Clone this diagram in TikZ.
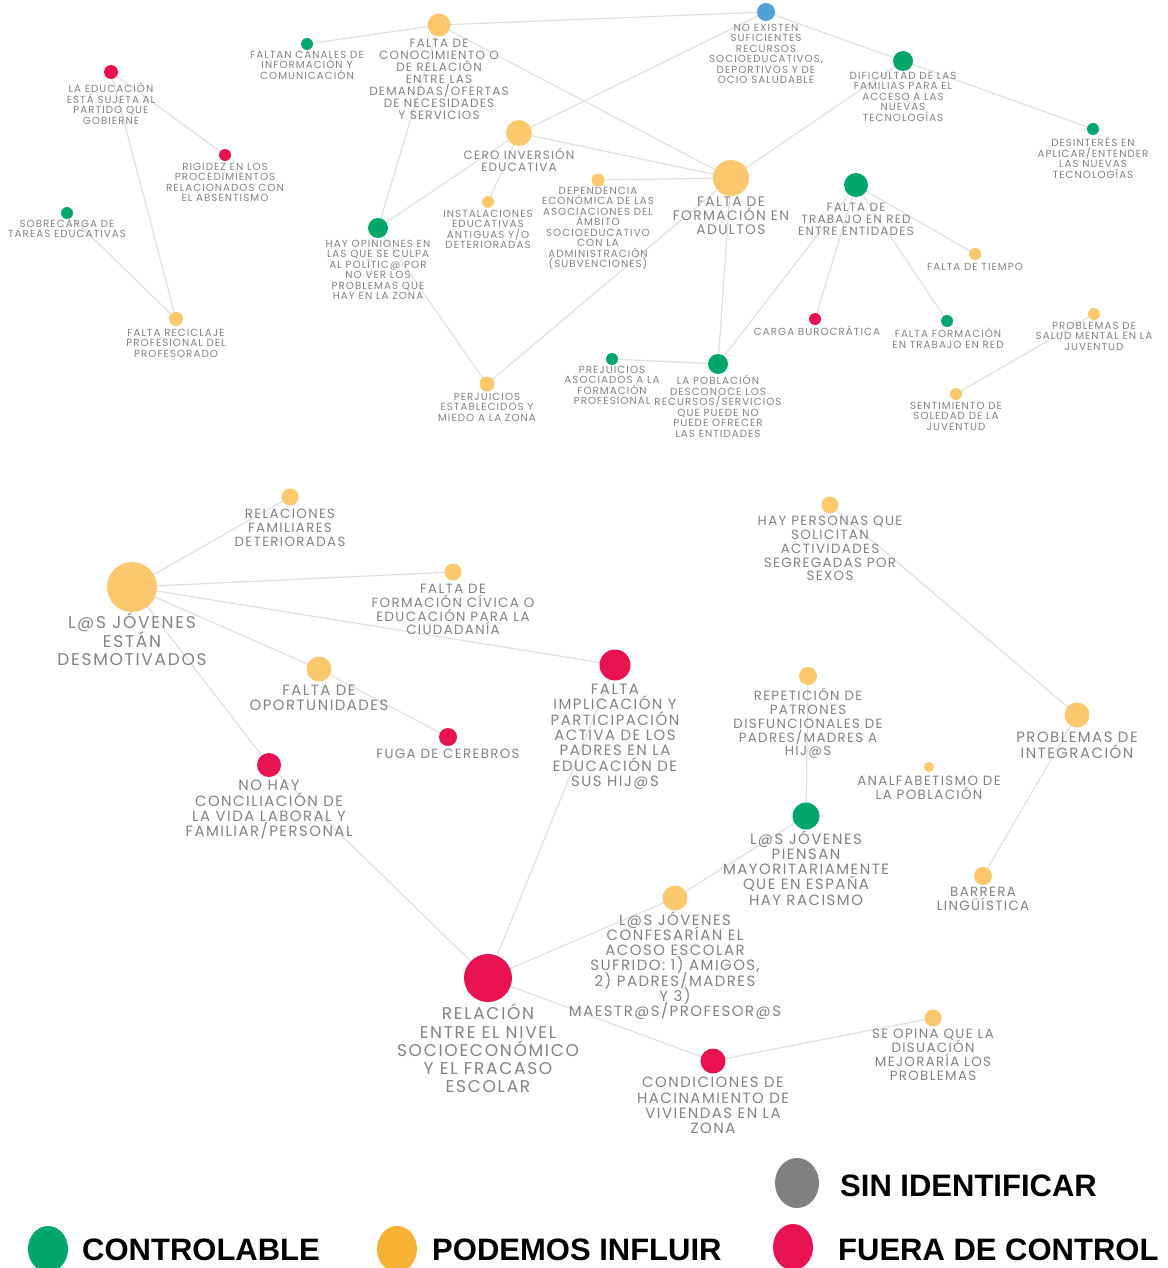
\documentclass[tikz,border=0pt]{standalone}
\usepackage{fontspec}
\setmainfont{Poppins}[LetterSpace=10]
\newfontfamily\legfont{Liberation Sans}[BoldFont=* Bold]
\usetikzlibrary{backgrounds,shapes.geometric}
\definecolor{cg}{RGB}{0,166,106}
\definecolor{co}{RGB}{252,200,110}
\definecolor{cr}{RGB}{232,18,80}
\definecolor{cb}{RGB}{80,160,220}
\definecolor{lo}{RGB}{248,178,51}
\definecolor{lgr}{RGB}{128,128,128}
\definecolor{tg}{RGB}{130,130,130}
\definecolor{eg}{RGB}{224,224,224}
\newcommand\lblfont[2]{\fontsize{#1}{#2}\selectfont\lineskiplimit=-30pt\relax}
\tikzset{
  dot/.style={circle, inner sep=0pt, draw=none},
  gdot/.style={dot, fill=cg},
  odot/.style={dot, fill=co},
  rdot/.style={dot, fill=cr},
  bdot/.style={dot, fill=cb},
  lbl/.style={inner sep=0pt, align=center, text=tg, anchor=north},
  lbA/.style={lbl, font=\lblfont{10.3}{10.5}},
  lbB/.style={lbl, font=\lblfont{12}{12}},
  lbC/.style={lbl, font=\lblfont{13.8}{13.6}},
  lbD/.style={lbl, font=\lblfont{13.4}{13.8}},
  lbE/.style={lbl, font=\lblfont{14.9}{15.3}},
  lbF/.style={lbl, font=\lblfont{17}{18.2}},
  edge/.style={draw=eg, line width=1.2pt},
  legdot/.style={ellipse, inner sep=0pt, draw=none, minimum width=40, minimum height=46},
  legtxt/.style={inner sep=0pt, anchor=base west, font=\legfont\bfseries\fontsize{31}{31}\selectfont, text=black}
}
\begin{document}
\begin{tikzpicture}[x=1pt,y=-1pt]
\useasboundingbox (0,0) rectangle (1167,1268);
% ---------- top cluster ----------
\node[rdot, minimum size=14] (educ) at (111,72) {};
\node[lbA] (educL) at (111,83) {LA EDUCACIÓN\\ESTÁ SUJETA AL\\PARTIDO QUE\\GOBIERNE};
\node[rdot, minimum size=12] (rigid) at (225,155) {};
\node[lbA] (rigidL) at (225,163) {RIGIDEZ EN LOS\\PROCEDIMIENTOS\\RELACIONADOS CON\\EL ABSENTISMO};
\node[gdot, minimum size=12] (sobre) at (67,213) {};
\node[lbA] (sobreL) at (67,220) {SOBRECARGA DE\\TAREAS EDUCATIVAS};
\node[odot, minimum size=14] (recic) at (176,319) {};
\node[lbA] (recicL) at (176,329) {FALTA RECICLAJE\\PROFESIONAL DEL\\PROFESORADO};
\node[gdot, minimum size=12] (canales) at (307,44) {};
\node[lbA] (canalesL) at (307,51) {FALTAN CANALES DE\\INFORMACIÓN Y\\COMUNICACIÓN};
\node[odot, minimum size=23] (conoc) at (439,25) {};
\node[lbB] (conocL) at (439,39) {FALTA DE\\CONOCIMIENTO O\\DE RELACIÓN\\ENTRE LAS\\DEMANDAS/OFERTAS\\DE NECESIDADES\\Y SERVICIOS};
\node[bdot, minimum size=18] (noexist) at (766,12) {};
\node[lbA] (noexistL) at (766,24) {NO EXISTEN\\SUFICIENTES\\RECURSOS\\SOCIOEDUCATIVOS,\\DEPORTIVOS Y DE\\OCIO SALUDABLE};
\node[gdot, minimum size=20] (dific) at (903,61) {};
\node[lbA] (dificL) at (903,72) {DIFICULTAD DE LAS\\FAMILIAS PARA EL\\ACCESO A LAS\\NUEVAS\\TECNOLOGÍAS};
\node[gdot, minimum size=12] (desint) at (1093,129) {};
\node[lbA] (desintL) at (1093,137) {DESINTERÉS EN\\APLICAR/ENTENDER\\LAS NUEVAS\\TECNOLOGÍAS};
\node[odot, minimum size=26] (cero) at (519,133) {};
\node[lbB] (ceroL) at (519,148) {CERO INVERSIÓN\\EDUCATIVA};
\node[odot, minimum size=12] (inst) at (488,202) {};
\node[lbA] (instL) at (488,210) {INSTALACIONES\\EDUCATIVAS\\ANTIGUAS Y/O\\DETERIORADAS};
\node[odot, minimum size=13] (depend) at (598,180) {};
\node[lbA] (dependL) at (598,187) {DEPENDENCIA\\ECONÓMICA DE LAS\\ASOCIACIONES DEL\\ÁMBITO\\SOCIOEDUCATIVO\\CON LA\\ADMINISTRACIÓN\\(SUBVENCIONES)};
\node[odot, minimum size=36] (adult) at (731,178) {};
\node[lbC] (adultL) at (731,197) {FALTA DE\\FORMACIÓN EN\\ADULTOS};
\node[gdot, minimum size=20] (opin) at (378,228) {};
\node[lbA] (opinL) at (378,240) {HAY OPINIONES EN\\LAS QUE SE CULPA\\AL POLÍTIC@ POR\\NO VER LOS\\PROBLEMAS QUE\\HAY EN LA ZONA};
\node[gdot, minimum size=24] (trab) at (856,185) {};
\node[lbB] (trabL) at (856,203) {FALTA DE\\TRABAJO EN RED\\ENTRE ENTIDADES};
\node[odot, minimum size=12] (tiempo) at (975,254) {};
\node[lbA] (tiempoL) at (975,263) {FALTA DE TIEMPO};
\node[rdot, minimum size=12] (carga) at (815,319) {};
\node[lbA] (cargaL) at (817,326) {CARGA BUROCRÁTICA};
\node[gdot, minimum size=12] (fortrab) at (947,321) {};
\node[lbA] (fortrabL) at (948,328) {FALTA FORMACIÓN\\EN TRABAJO EN RED};
\node[odot, minimum size=12] (salud) at (1094,314) {};
\node[lbA] (saludL) at (1094,322) {PROBLEMAS DE\\SALUD MENTAL EN LA\\JUVENTUD};
\node[odot, minimum size=12] (soledad) at (956,394) {};
\node[lbA] (soledadL) at (956,402) {SENTIMIENTO DE\\SOLEDAD DE LA\\JUVENTUD};
\node[odot, minimum size=15] (prejui) at (487,384) {};
\node[lbA] (prejuiL) at (487,393) {PERJUICIOS\\ESTABLECIDOS Y\\MIEDO A LA ZONA};
\node[gdot, minimum size=12] (desasoc) at (612,359) {};
\node[lbA] (desasocL) at (612,366) {PREJUICIOS\\ASOCIADOS A LA\\FORMACIÓN\\PROFESIONAL};
\node[gdot, minimum size=20] (poblac) at (718,364) {};
\node[lbA] (poblacL) at (718,375) {LA POBLACIÓN\\DESCONOCE LOS\\RECURSOS/SERVICIOS\\QUE PUEDE NO\\PUEDE OFRECER\\LAS ENTIDADES};
% ---------- bottom cluster ----------
\node[odot, minimum size=50] (desmot) at (132,587) {};
\node[lbF] (desmotL) at (132,613) {L@S JÓVENES\\ESTÁN\\DESMOTIVADOS};
\node[odot, minimum size=17] (relfam) at (290,497) {};
\node[lbD] (relfamL) at (290,509) {RELACIONES\\FAMILIARES\\DETERIORADAS};
\node[odot, minimum size=17] (civica) at (453,572) {};
\node[lbD] (civicaL) at (453,584) {FALTA DE\\FORMACIÓN CÍVICA O\\EDUCACIÓN PARA LA\\CIUDADANÍA};
\node[odot, minimum size=25] (oport) at (319,669) {};
\node[lbE] (oportL) at (319,685) {FALTA DE\\OPORTUNIDADES};
\node[rdot, minimum size=18] (fuga) at (448,737) {};
\node[lbD] (fugaL) at (448,749) {FUGA DE CEREBROS};
\node[rdot, minimum size=31] (implic) at (615,665) {};
\node[lbE] (implicL) at (615,684) {FALTA\\IMPLICACIÓN Y\\PARTICIPACIÓN\\ACTIVA DE LOS\\PADRES EN LA\\EDUCACIÓN DE\\SUS HIJ@S};
\node[rdot, minimum size=24] (concil) at (269,765) {};
\node[lbE] (concilL) at (269,780) {NO HAY\\CONCILIACIÓN DE\\LA VIDA LABORAL Y\\FAMILIAR/PERSONAL};
\node[rdot, minimum size=48] (relac) at (488,978) {};
\node[lbF] (relacL) at (488,1004) {RELACIÓN\\ENTRE EL NIVEL\\SOCIOECONÓMICO\\Y EL FRACASO\\ESCOLAR};
\node[odot, minimum size=25] (acoso) at (675,898) {};
\node[lbE] (acosoL) at (675,911) {L@S JÓVENES\\CONFESARÍAN EL\\ACOSO ESCOLAR\\SUFRIDO: 1) AMIGOS,\\2) PADRES/MADRES\\Y 3)\\MAESTR@S/PROFESOR@S};
\node[gdot, minimum size=27] (racismo) at (806,816) {};
\node[lbE] (racismoL) at (806,830) {L@S JÓVENES\\PIENSAN\\MAYORITARIAMENTE\\QUE EN ESPAÑA\\HAY RACISMO};
\node[odot, minimum size=18] (patron) at (808,676) {};
\node[lbD] (patronL) at (808,688) {REPETICIÓN DE\\PATRONES\\DISFUNCIONALES DE\\PADRES/MADRES A\\HIJ@S};
\node[odot, minimum size=10] (analf) at (929,767) {};
\node[lbD] (analfL) at (929,776) {ANALFABETISMO DE\\LA POBLACIÓN};
\node[odot, minimum size=17] (solic) at (830,505) {};
\node[lbD] (solicL) at (830,516) {HAY PERSONAS QUE\\SOLICITAN\\ACTIVIDADES\\SEGREGADAS POR\\SEXOS};
\node[odot, minimum size=25] (integ) at (1077,715) {};
\node[lbE] (integL) at (1077,732) {PROBLEMAS DE\\INTEGRACIÓN};
\node[odot, minimum size=18] (barrera) at (983,876) {};
\node[lbD] (barreraL) at (983,887) {BARRERA\\LINGÜÍSTICA};
\node[rdot, minimum size=25] (hacin) at (713,1061) {};
\node[lbE] (hacinL) at (713,1077) {CONDICIONES DE\\HACINAMIENTO DE\\VIVIENDAS EN LA\\ZONA};
\node[odot, minimum size=17] (disuas) at (933,1018) {};
\node[lbD] (disuasL) at (933,1029) {SE OPINA QUE LA\\DISUACIÓN\\MEJORARÍA LOS\\PROBLEMAS};
% ---------- edges ----------
\begin{pgfonlayer}{background}
\foreach \a/\b in {educ/recic, educ/rigid, sobre/recic, canales/conoc, conoc/noexist,
  conoc/adult, conoc/opin, noexist/cero, noexist/dific, dific/desint, dific/adult,
  cero/adult, cero/opin, cero/inst, depend/adult, adult/poblac, adult/prejui,
  opin/prejui, trab/poblac, trab/carga, trab/fortrab, trab/tiempo, desasoc/poblac,
  salud/soledad,
  desmot/relfam, desmot/civica, desmot/implic, desmot/oport, desmot/concil,
  oport/fuga, concil/relac, implic/relac, relac/acoso, acoso/racismo,
  racismo/patron, relac/hacin, hacin/disuas, solic/integ, integ/barrera}
  \draw[edge] (\a.center) -- (\b.center);
\end{pgfonlayer}
% ---------- legend ----------
\node[legdot, fill=lgr, minimum width=44, minimum height=50] (legS) at (797,1183) {};
\node[legtxt] (legSt) at (840,1196) {SIN IDENTIFICAR};
\node[legdot, fill=cg] (legC) at (48,1249) {};
\node[legtxt] (legCt) at (82,1260) {CONTROLABLE};
\node[legdot, fill=lo] (legP) at (397,1249) {};
\node[legtxt] (legPt) at (432,1260) {PODEMOS INFLUIR};
\node[legdot, fill=cr] (legF) at (793,1247) {};
\node[legtxt] (legFt) at (838,1260) {FUERA DE CONTROL};
\end{tikzpicture}
\end{document}
